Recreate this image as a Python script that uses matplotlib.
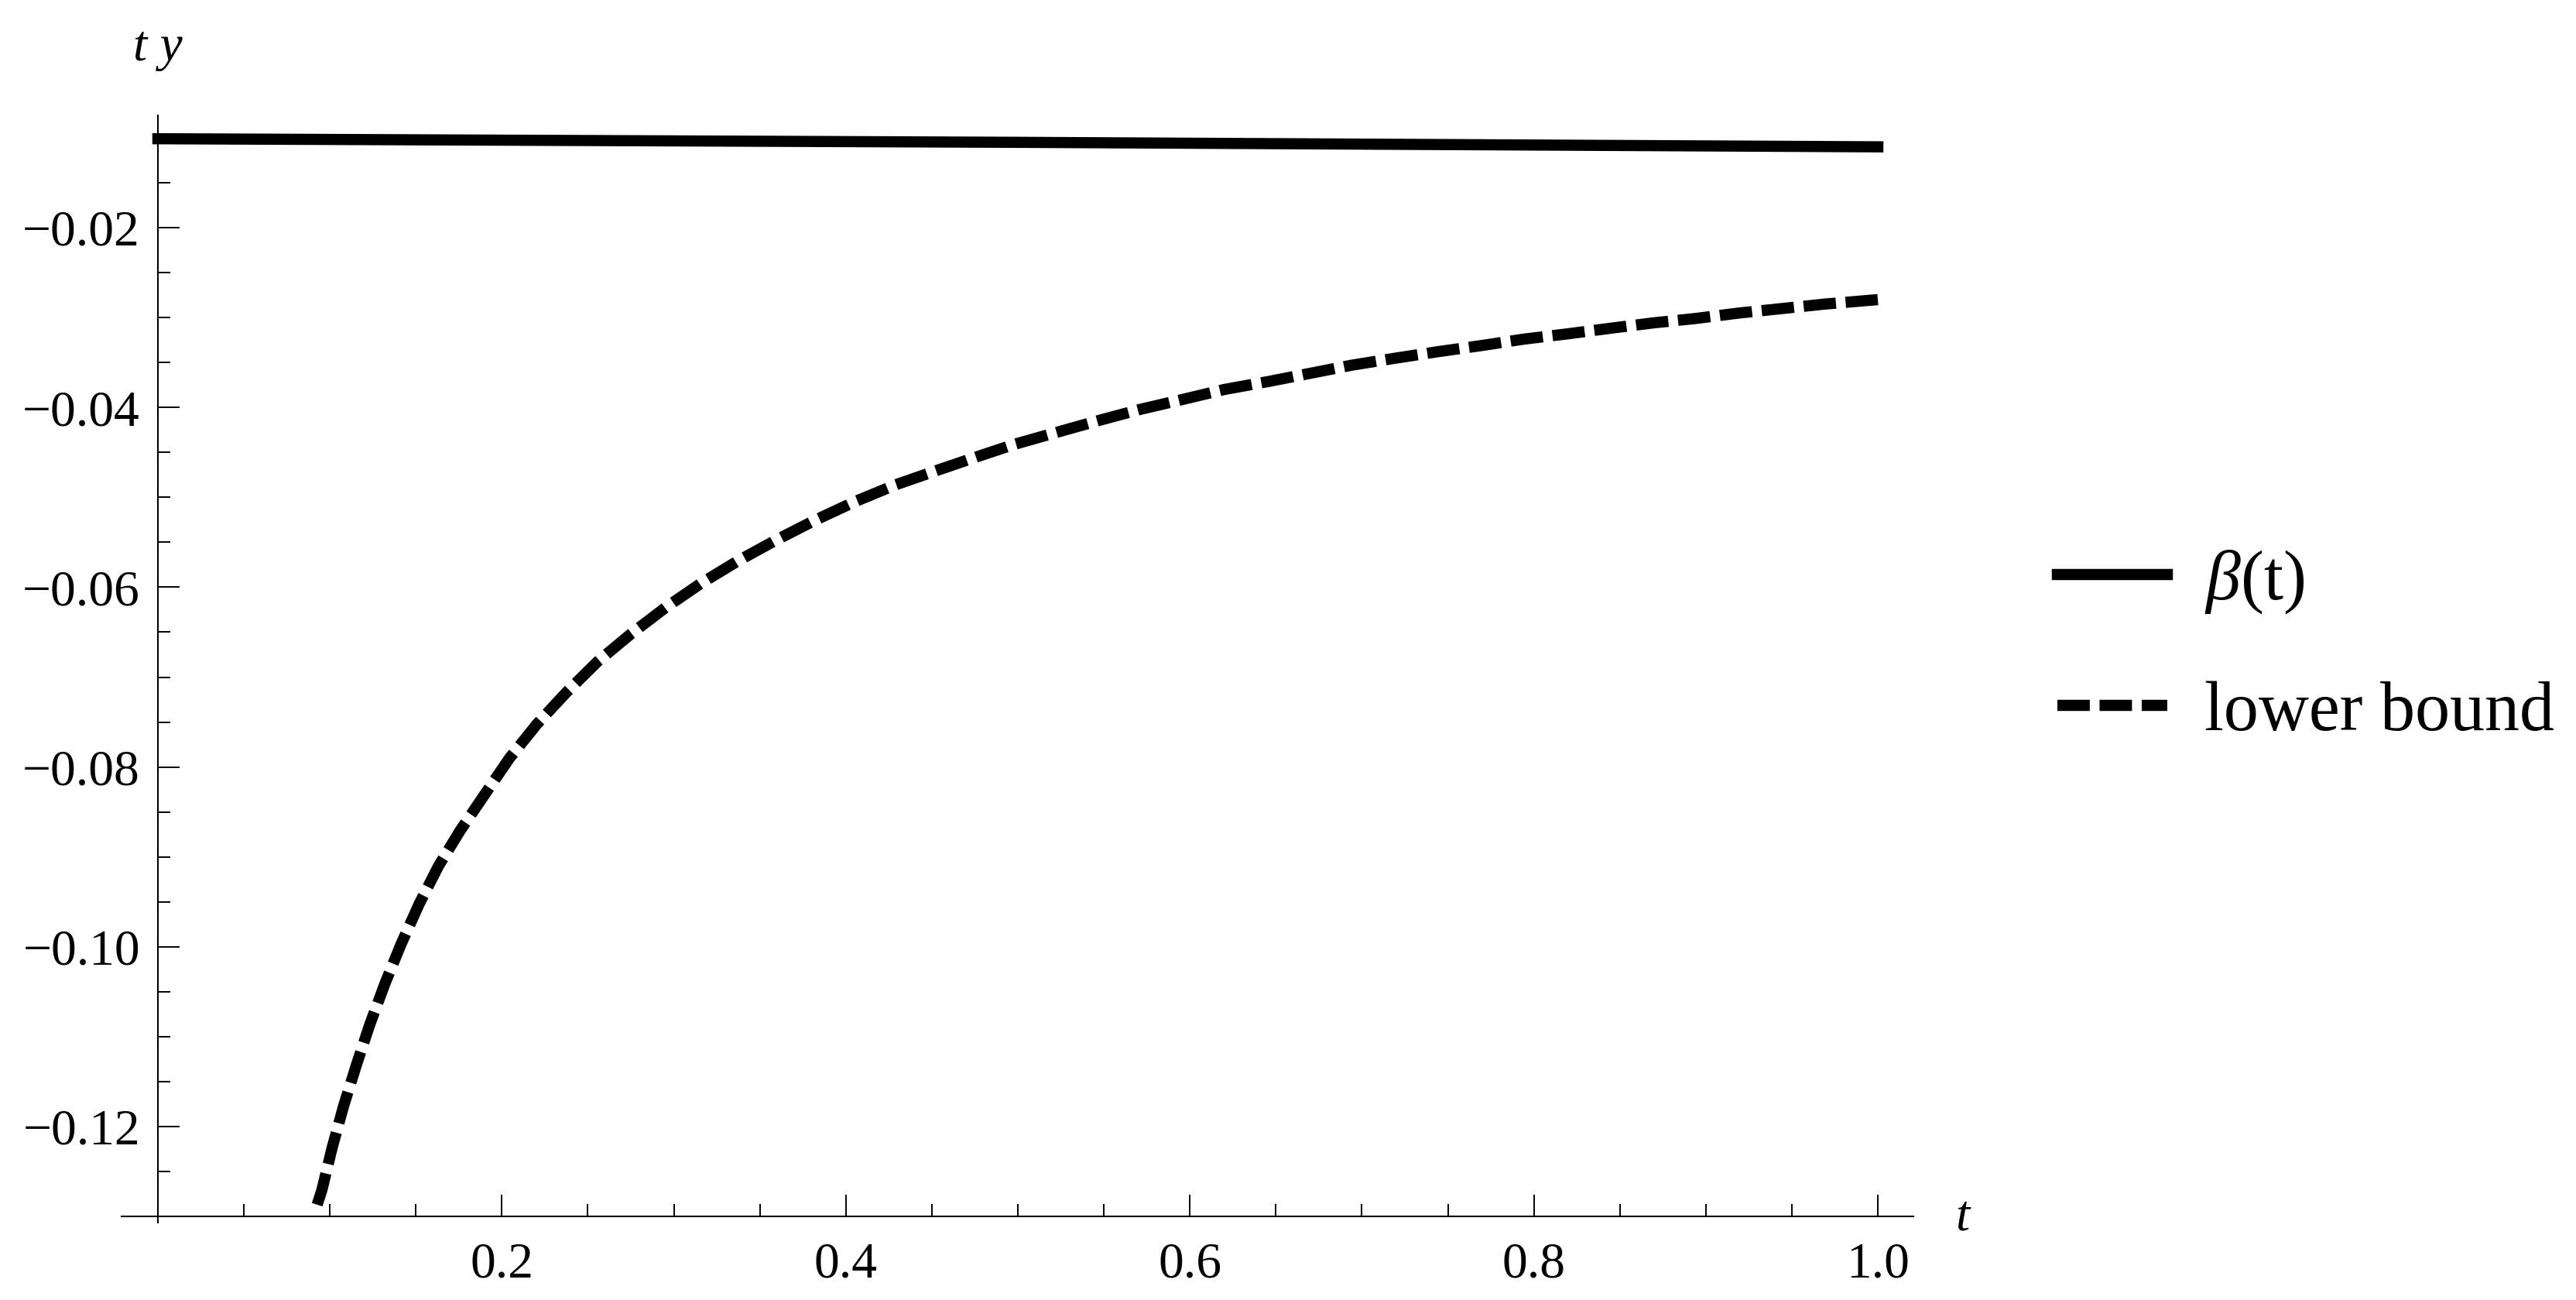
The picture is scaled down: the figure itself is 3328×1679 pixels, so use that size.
import matplotlib
matplotlib.use("Agg")
import matplotlib.pyplot as plt
from matplotlib.ticker import FixedLocator, FixedFormatter

# ---- data ----
beta_t = [0.0, 0.5, 1.0]
beta_y = [-0.0101, -0.0105, -0.0110]

lb_t = [0.0926, 0.0953, 0.1014, 0.108, 0.1155, 0.1233, 0.132, 0.1414, 0.152,
        0.1632, 0.176, 0.1902, 0.2045, 0.2205, 0.2375, 0.2555, 0.275, 0.2949,
        0.3155, 0.337, 0.359, 0.3815, 0.405, 0.429, 0.453, 0.476, 0.498,
        0.522, 0.548, 0.5714, 0.596, 0.620, 0.646, 0.670, 0.694, 0.720,
        0.744, 0.770, 0.794, 0.820, 0.844, 0.869, 0.894, 0.919, 0.944,
        0.969, 1.0]
lb_y = [-0.1287, -0.1271, -0.1223, -0.1177, -0.1131, -0.1086, -0.1041, -0.0997,
        -0.0952, -0.0910, -0.0870, -0.0830, -0.0790, -0.0752, -0.0717, -0.0683,
        -0.0652, -0.0623, -0.0596, -0.0571, -0.0548, -0.0526, -0.0505, -0.0486,
        -0.0470, -0.0455, -0.0441, -0.0428, -0.0414, -0.0402, -0.0391, -0.0380,
        -0.0371, -0.0362, -0.0353, -0.0345, -0.0338, -0.0331, -0.0324, -0.0318,
        -0.0312, -0.0306, -0.0301, -0.0295, -0.0290, -0.0285, -0.0280]

x_major = [0.2, 0.4, 0.6, 0.8, 1.0]
x_major_labels = ["0.2", "0.4", "0.6", "0.8", "1.0"]
x_minor = [0.05, 0.1, 0.15, 0.25, 0.3, 0.35, 0.45, 0.5, 0.55, 0.65, 0.7, 0.75,
           0.85, 0.9, 0.95]
y_major = [-0.02, -0.04, -0.06, -0.08, -0.10, -0.12]
y_major_labels = ["\u22120.02", "\u22120.04", "\u22120.06", "\u22120.08",
                  "\u22120.10", "\u22120.12"]
y_minor = [-0.01, -0.015, -0.025, -0.03, -0.035, -0.045, -0.05, -0.055,
           -0.065, -0.07, -0.075, -0.085, -0.09, -0.095, -0.105, -0.11,
           -0.115, -0.125, -0.13]

legend_labels = [r"$\beta$(t)", "lower bound"]

# ---- style ----
plt.rcParams["font.family"] = ["Liberation Serif", "DejaVu Serif"]
plt.rcParams["mathtext.fontset"] = "custom"
plt.rcParams["mathtext.rm"] = "Liberation Serif"
plt.rcParams["mathtext.it"] = "Liberation Serif:italic"

DPI = 200
W, H = 3328, 1679
fig = plt.figure(figsize=(W / DPI, H / DPI), dpi=DPI)
ax = fig.add_axes([157 / W, 1 - 1579 / H, (2472 - 157) / W, (1579 - 149) / H])

lw = 5.2
l1, = ax.plot(beta_t, beta_y, color="black", lw=lw, solid_capstyle="projecting",
              clip_on=False)
l2, = ax.plot(lb_t, lb_y, color="black", lw=lw, ls=(0, (2.9, 0.87)),
              dash_capstyle="butt", clip_on=False)

ax.set_xlim(-0.02115, 1.0207)
ax.set_ylim(-0.13069, -0.0075)

for s in ["top", "right"]:
    ax.spines[s].set_visible(False)
ax.spines["left"].set_position(("data", 0.0))
ax.spines["bottom"].set_position(("data", -0.13))
for s in ["left", "bottom"]:
    ax.spines[s].set_linewidth(0.75)

ax.xaxis.set_major_locator(FixedLocator(x_major))
ax.xaxis.set_major_formatter(FixedFormatter(x_major_labels))
ax.xaxis.set_minor_locator(FixedLocator(x_minor))
ax.yaxis.set_major_locator(FixedLocator(y_major))
ax.yaxis.set_major_formatter(FixedFormatter(y_major_labels))
ax.yaxis.set_minor_locator(FixedLocator(y_minor))

ax.tick_params(axis="both", which="both", direction="in", width=0.7,
               colors="black", labelsize=23.6)
ax.tick_params(axis="both", which="major", length=10)
ax.tick_params(axis="both", which="minor", length=5.8)
ax.tick_params(axis="x", which="major", pad=12)
ax.tick_params(axis="y", which="major", pad=8.3)

ax.text((2535 - 157) / (2472 - 157), (1579 - 1573) / 1430, "t", style="italic",
        fontsize=23.6, ha="center", va="center", transform=ax.transAxes)
ax.text((204 - 157) / (2472 - 157), (1579 - 78) / 1430, "t y", style="italic",
        fontsize=23.6, ha="center", va="baseline", transform=ax.transAxes)

fig.legend([l1, l2], legend_labels, loc="center left",
           bbox_to_anchor=(2658 / W, 1 - 835 / H), frameon=False,
           fontsize=32.4, handlelength=1.58, handletextpad=0.53,
           labelspacing=0.94, borderpad=0, borderaxespad=0)

fig.savefig("out.png", dpi=DPI)
